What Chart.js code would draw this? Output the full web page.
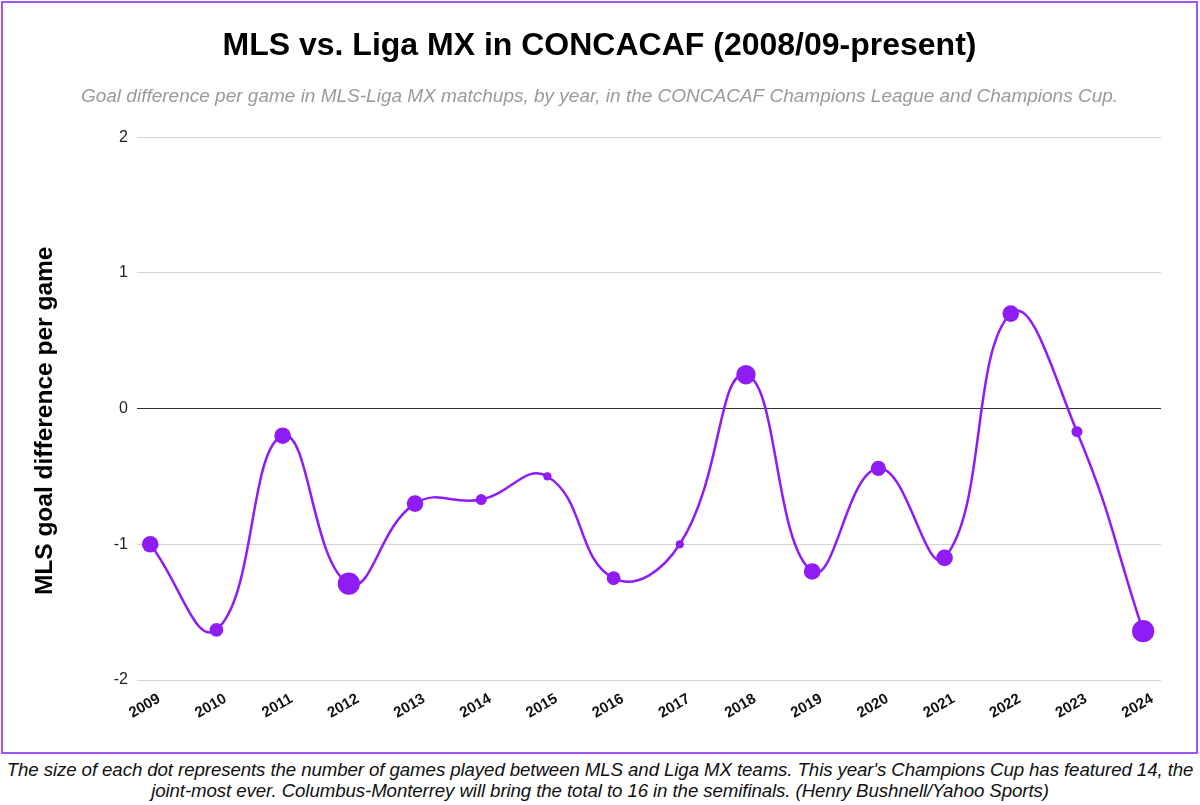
<!DOCTYPE html>
<html>
<head>
<meta charset="utf-8">
<script src="https://cdn.jsdelivr.net/npm/chart.js@4"></script>
<style>
  html, body { margin: 0; padding: 0; background: #fff; }
  body { width: 1200px; height: 805px; position: relative; font-family: 'Liberation Sans', Arial, sans-serif; }
  .frame { position: absolute; left: 1px; top: 1px; width: 1197px; height: 753px; border: 2px solid #a052f5; box-sizing: border-box; }
  .frame canvas { display: block; }
  .caption { position: absolute; left: 0; top: 759px; width: 1200px; text-align: center; font-style: italic; font-size: 18.7px; line-height: 21px; color: #111; letter-spacing: -0.1px; }
</style>
</head>
<body>
<div class="frame"><canvas id="chart" width="1193" height="749"></canvas></div>
<div class="caption">The size of each dot represents the number of games played between MLS and Liga MX teams. This year's Champions Cup has featured 14, the<br>joint-most ever. Columbus-Monterrey will bring the total to 16 in the semifinals. (Henry Bushnell/Yahoo Sports)</div>
<script>
// Dados
const years = [2009, 2010, 2011, 2012, 2013, 2014, 2015, 2016, 2017, 2018, 2019, 2020, 2021, 2022, 2023, 2024];
const goalDiffPerGame = [-1.0, -1.63, -0.2, -1.29, -0.7, -0.67, -0.5, -1.25, -1.0, 0.25, -1.2, -0.44, -1.1, 0.7, -0.17, -1.64];
const gamesPlayed = [10, 8, 10, 14, 10, 6, 4, 8, 4, 12, 10, 9, 10, 10, 6, 14];
const yTicks = [-2, -1, 0, 1, 2];

const purple = '#8f1cf5';
const fontFamily = "'Liberation Sans', Arial";

// tamanho do ponto proporcional ao número de jogos
const radii = gamesPlayed.map(g => 0.7 * g + 1.3);

new Chart(document.getElementById('chart'), {
    type: 'line',
    data: {
        datasets: [{
            data: years.map((y, i) => ({ x: y, y: goalDiffPerGame[i] })),
            borderColor: purple,
            backgroundColor: purple,
            borderWidth: 2.5,
            tension: 0.45,
            pointRadius: radii,
            pointBorderWidth: 0,
            pointBackgroundColor: purple
        }]
    },
    options: {
        responsive: false,
        animation: false,
        layout: { padding: 0 },
        plugins: {
            legend: { display: false },
            tooltip: { enabled: false },
            title: {
                display: true,
                text: 'MLS vs. Liga MX in CONCACAF (2008/09-present)',
                color: '#000',
                font: { family: fontFamily, size: 32, weight: 'bold' },
                padding: { top: 24, bottom: 20 }
            },
            subtitle: {
                display: true,
                text: 'Goal difference per game in MLS-Liga MX matchups, by year, in the CONCACAF Champions League and Champions Cup.',
                color: '#9a9a9a',
                font: { family: fontFamily, size: 19, style: 'italic' },
                padding: { top: 0, bottom: 29 }
            }
        },
        scales: {
            x: {
                type: 'linear',
                min: 2008.8,
                max: 2024.27,
                afterBuildTicks: s => { s.ticks = years.map(v => ({ value: v })); },
                afterFit: s => { s.height = 72; },
                grid: { display: false },
                border: { display: false },
                ticks: {
                    color: '#111',
                    font: { family: fontFamily, size: 15, weight: 'bold' },
                    minRotation: 30,
                    maxRotation: 30,
                    padding: 2,
                    labelOffset: 9,
                    callback: v => String(v)
                }
            },
            y: {
                min: -2,
                max: 2,
                afterBuildTicks: s => { s.ticks = yTicks.map(v => ({ value: v })); },
                afterFit: s => { s.width = 134; },
                grid: {
                    color: ctx => ctx.tick && ctx.tick.value === 0 ? '#333' : '#d3d3d3',
                    lineWidth: 1,
                    drawTicks: false
                },
                border: { display: false },
                ticks: {
                    color: '#222',
                    font: { family: fontFamily, size: 16 },
                    padding: 9
                },
                title: {
                    display: true,
                    // espaços no fim para descer o título um pouco
                    text: 'MLS goal difference per game\u2002\u2002',
                    color: '#000',
                    font: { family: fontFamily, size: 24.5, weight: 'bold' },
                    padding: { top: 28, bottom: 0 }
                }
            },
            // eixo vazio à direita só para reservar a margem
            yRight: {
                position: 'right',
                afterFit: s => { s.width = 35; },
                grid: { display: false },
                border: { display: false },
                ticks: { display: false }
            }
        }
    }
});
</script>
</body>
</html>
